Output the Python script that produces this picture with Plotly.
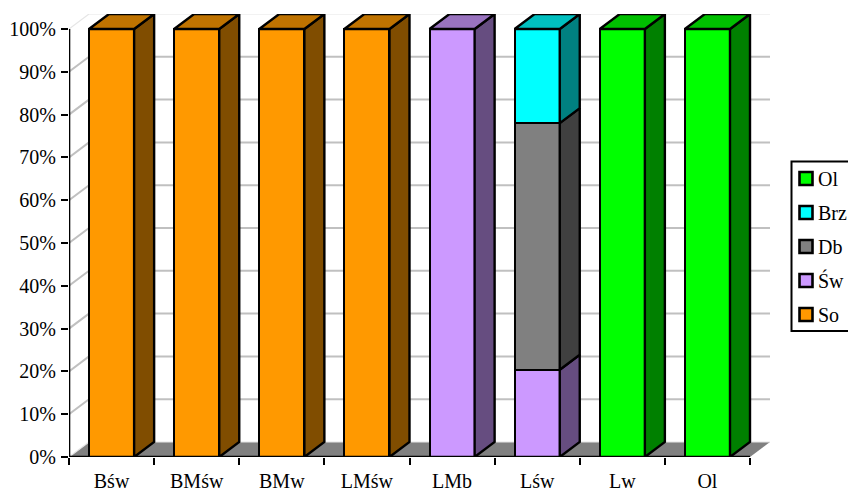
import plotly.graph_objects as go

categories = ["Bśw", "BMśw", "BMw", "LMśw", "LMb", "Lśw", "Lw", "Ol"]
series_names = ["So", "Św", "Db", "Brz", "Ol"]
so = [100, 100, 100, 100, None, None, None, None]
sw = [None, None, None, None, 100, 20.4, None, None]
db = [None, None, None, None, None, 57.6, None, None]
brz = [None, None, None, None, None, 22, None, None]
ol = [None, None, None, None, None, None, 100, 100]
series_values = [so, sw, db, brz, ol]
front_colors = ["#FF9900", "#CC99FF", "#808080", "#00FFFF", "#00FF00"]
side_colors = ["#804D00", "#664D80", "#404040", "#008080", "#008000"]
top_colors = ["#BF7300", "#9973BF", "#606060", "#00BFBF", "#00BF00"]
y_ticks = [0, 10, 20, 30, 40, 50, 60, 70, 80, 90, 100]

# layout geometry
W, H = 848, 490
L, R, T, B = 69, 770, 14, 457
DX = 20 / 85.1   # depth offset in category units
DY = 15 / 4.28   # depth offset in percent units
BAR_W = 0.53
HALF = BAR_W / 2
X0, X1 = -0.5, len(categories) - 0.5

fig = go.Figure()
idx = list(range(len(categories)))

# front faces
for name, vals, col in zip(series_names, series_values, front_colors):
    fig.add_trace(go.Bar(x=idx, y=vals, name=name, width=BAR_W,
                         marker=dict(color=col, line=dict(color="black", width=2.4)),
                         showlegend=False))

# side and top faces derived from the stacked data
tops = [0.0] * len(categories)
top_of = [None] * len(categories)
for s, vals in enumerate(series_values):
    sx, sy = [], []
    for i, v in enumerate(vals):
        if v is None:
            continue
        a, b = tops[i], tops[i] + v
        xr = i + HALF
        sx += [xr, xr + DX, xr + DX, xr, xr, None]
        sy += [a, a + DY, b + DY, b, a, None]
        tops[i] = b
        top_of[i] = s
    fig.add_trace(go.Scatter(x=sx, y=sy, mode="lines", fill="toself", fillcolor=side_colors[s],
                             line=dict(color="black", width=2.4), showlegend=False,
                             hoverinfo="skip", cliponaxis=False))
for s in range(len(series_values)):
    tx, ty = [], []
    for i in idx:
        if top_of[i] == s:
            xl, xr, b = i - HALF, i + HALF, tops[i]
            tx += [xl, xr, xr + DX, xl + DX, xl, None]
            ty += [b, b, b + DY, b + DY, b, None]
    if tx:
        fig.add_trace(go.Scatter(x=tx, y=ty, mode="lines", fill="toself", fillcolor=top_colors[s],
                                 line=dict(color="black", width=2.4), showlegend=False,
                                 hoverinfo="skip", cliponaxis=False))

# axis lines
fig.add_trace(go.Scatter(x=[X0, X0, X1], y=[100, 0, 0], mode="lines",
                         line=dict(color="black", width=2.6), showlegend=False,
                         hoverinfo="skip", cliponaxis=False))

shapes = []
# floor
shapes.append(dict(type="path", layer="below", xref="x", yref="y",
                   path=f"M {X0} 0 L {X0+DX} {DY} L {X1+DX} {DY} L {X1} 0 Z",
                   fillcolor="#808080", line=dict(width=0)))
# walls' gridlines
for t in y_ticks:
    light = t in (0, 100)
    col = "#E6E6E6" if light else "#C0C0C0"
    w = 1.2 if light else 2
    shapes.append(dict(type="line", layer="below", xref="x", yref="y",
                       x0=X0, y0=t, x1=X0 + DX, y1=t + DY, line=dict(color=col, width=w)))
    shapes.append(dict(type="line", layer="below", xref="x", yref="y",
                       x0=X0 + DX, y0=t + DY, x1=X1 + DX, y1=t + DY, line=dict(color=col, width=w)))


def px(v):
    return (v - L) / (R - L)


def py(v):
    return (B - v) / (B - T)


# legend
FONT = "Liberation Serif"
annotations = []
shapes.append(dict(type="rect", xref="paper", yref="paper", layer="above",
                   x0=px(791.5), x1=px(870), y0=py(161.5), y1=py(331),
                   fillcolor="white", line=dict(color="black", width=2)))
legend_ys = [178.5, 212.5, 246.5, 280.5, 314.5]
for s, yc in zip(range(len(series_names) - 1, -1, -1), legend_ys):
    shapes.append(dict(type="rect", xref="paper", yref="paper", layer="above",
                       x0=px(799.5), x1=px(812.5), y0=py(yc - 6.5), y1=py(yc + 6.5),
                       fillcolor=front_colors[s], line=dict(color="black", width=2.6)))
    annotations.append(dict(xref="paper", yref="paper", x=px(816), y=py(yc),
                            text=series_names[s], showarrow=False, xanchor="left", yanchor="middle",
                            font=dict(family=FONT, size=20, color="black")))

fig.update_layout(
    width=W, height=H, margin=dict(l=L, r=W - R, t=T, b=H - B, autoexpand=False),
    paper_bgcolor="white", plot_bgcolor="white", barmode="stack", bargap=0,
    showlegend=False, shapes=shapes, annotations=annotations,
    font=dict(family=FONT, size=20, color="black"),
    xaxis=dict(range=[X0, X1 + DX], tickmode="array", tickvals=idx, ticktext=categories,
               ticks="outside", ticklen=6, tickcolor="rgba(0,0,0,0)", showgrid=False,
               zeroline=False, showline=False,
               minor=dict(tickmode="array", tickvals=[i - 0.5 for i in range(len(categories) + 1)],
                          ticks="outside", ticklen=7, tickwidth=2.4, tickcolor="black", showgrid=False)),
    yaxis=dict(range=[0, 100 + DY], tickmode="array", tickvals=y_ticks,
               ticktext=[f"{t}%" for t in y_ticks], ticks="outside", ticklen=7, tickwidth=2.4,
               ticklabelstandoff=1,
               tickcolor="black", showgrid=False, zeroline=False, showline=False),
)

fig.write_html("out.html", config={"displayModeBar": False},
               post_script="document.body.style.margin='0';document.body.style.overflow='hidden';")
